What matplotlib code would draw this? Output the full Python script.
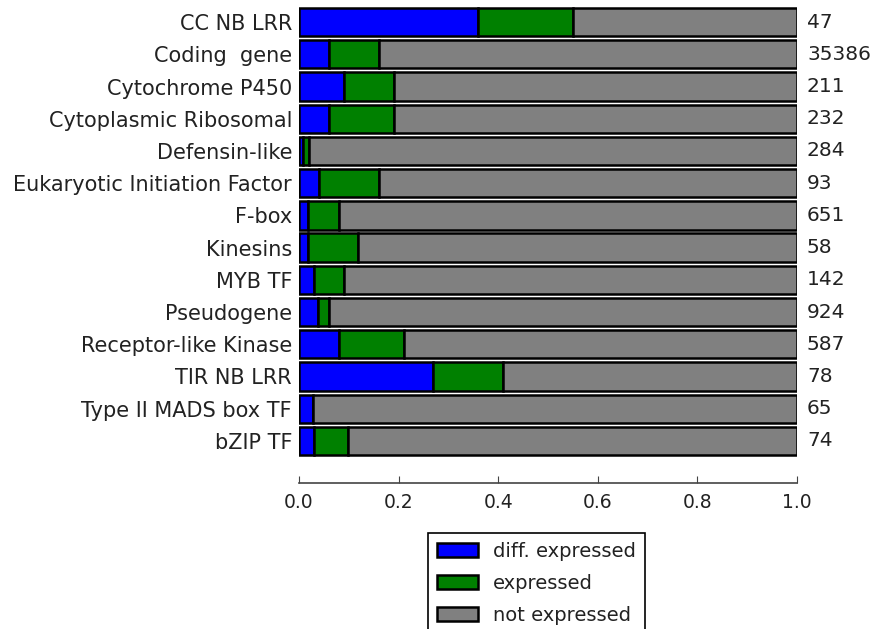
import matplotlib
matplotlib.use('Agg')
import matplotlib.pyplot as plt
import numpy as np

# gene families, top to bottom
families = ['CC NB LRR', 'Coding  gene', 'Cytochrome P450', 'Cytoplasmic Ribosomal',
            'Defensin-like', 'Eukaryotic Initiation Factor', 'F-box', 'Kinesins',
            'MYB TF', 'Pseudogene', 'Receptor-like Kinase', 'TIR NB LRR',
            'Type II MADS box TF', 'bZIP TF']
counts = [47, 35386, 211, 232, 284, 93, 651, 58, 142, 924, 587, 78, 65, 74]

# fractions
diff_expr = [0.36, 0.06, 0.09, 0.06, 0.009, 0.04, 0.019, 0.019, 0.031, 0.039, 0.08, 0.27, 0.029, 0.031]
expr = [0.19, 0.10, 0.10, 0.13, 0.011, 0.12, 0.061, 0.10, 0.06, 0.021, 0.13, 0.14, 0.0, 0.067]

diff_expr = np.array(diff_expr)
expr = np.array(expr)
not_expr = 1 - diff_expr - expr

W, H = 877, 629
fig = plt.figure(figsize=(W / 100, H / 100), dpi=100)
ax = fig.add_axes([299 / W, 1 - 457 / H, 498 / W, 451 / H])

y = np.arange(len(families))
h = 0.88
kw = dict(height=h, edgecolor='black', linewidth=1.8)
ax.barh(y, diff_expr, color='#0000ff', label='diff. expressed', **kw)
ax.barh(y, expr, left=diff_expr, color='#008000', label='expressed', **kw)
ax.barh(y, not_expr, left=diff_expr + expr, color='#808080', label='not expressed', **kw)

ax.set_ylim(len(families) - 0.5, -0.5)
ax.set_xlim(0, 1)
ax.set_yticks(y)
ax.set_yticklabels(families, fontsize=15, color='#222222')
ax.tick_params(axis='y', length=0, pad=5)

for yi, c in zip(y, counts):
    ax.text(1.02, yi, str(c), va='center', ha='left', fontsize=14.5, color='#222222')

for s in ['top', 'right', 'left']:
    ax.spines[s].set_visible(False)
ax.spines['bottom'].set_position(('outward', 19))
ax.spines['bottom'].set_color('#444444')
ax.spines['bottom'].set_linewidth(1.2)
ax.set_xticks([0, 0.2, 0.4, 0.6, 0.8, 1.0])
ax.set_xticklabels(['0.0', '0.2', '0.4', '0.6', '0.8', '1.0'], fontsize=13.5, color='#222222')
ax.tick_params(axis='x', direction='in', length=5, color='#444444', pad=7)

leg = ax.legend(loc='upper left', bbox_to_anchor=(0.259, -0.168), fontsize=14,
                fancybox=False, framealpha=1, edgecolor='black',
                handlelength=2.1, handleheight=0.7, handletextpad=0.8,
                borderpad=0.45, labelspacing=0.68, borderaxespad=0)
leg.get_frame().set_linewidth(1.2)
for t in leg.get_texts():
    t.set_color('#222222')

fig.savefig('out.png', dpi=100)
